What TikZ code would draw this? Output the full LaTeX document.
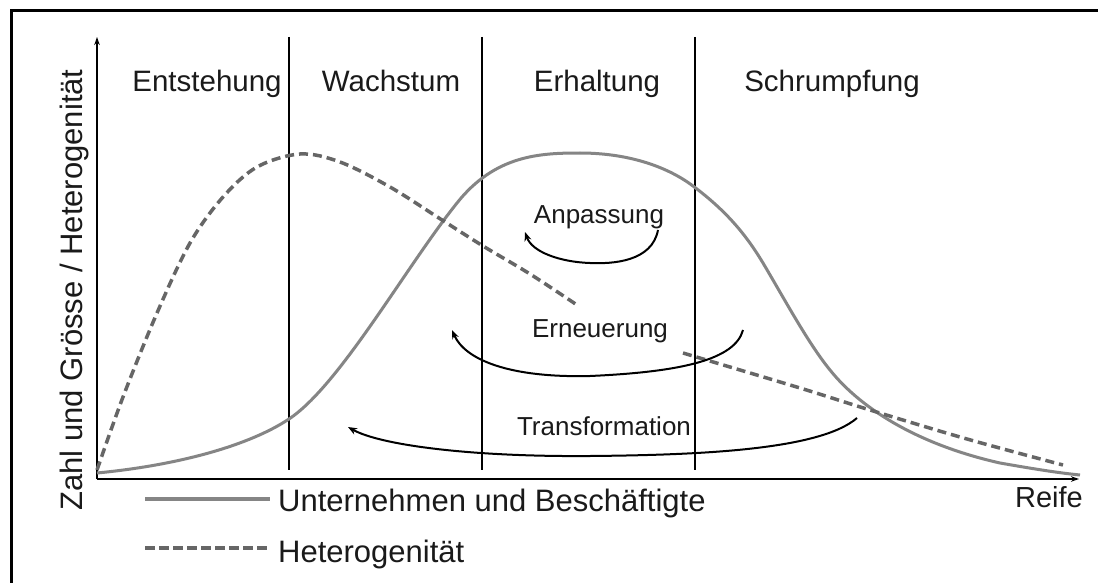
\documentclass[tikz,border=0pt]{standalone}
\usepackage{fontspec}
\setmainfont{Liberation Sans}
\usetikzlibrary{arrows.meta}
\definecolor{curvegray}{HTML}{858585}
\definecolor{dashgray}{HTML}{666666}
\definecolor{txt}{HTML}{1A1A1A}
\tikzset{
  frameline/.style={line width=3pt, black},
  axisline/.style={line width=2pt, black, -{Stealth[length=8pt,width=5.5pt]}},
  phaseline/.style={line width=2.4pt, black},
  solidcurve/.style={line width=3pt, curvegray},
  dashcurve/.style={line width=3.5pt, dashgray, dash pattern=on 9pt off 5pt},
  cyclearrow/.style={line width=2pt, black, -{Stealth[length=9pt,width=7pt]}},
  phaselabel/.style={text=txt, font=\fontsize{29.5}{33}\selectfont, anchor=base, inner sep=0pt},
  cyclelabel/.style={text=txt, font=\fontsize{26}{30}\selectfont, anchor=base, inner sep=0pt},
  legendlabel/.style={text=txt, font=\fontsize{31}{35}\selectfont, anchor=base west, inner sep=0pt},
}
\begin{document}
\begin{tikzpicture}[x=1pt,y=-1pt]
\useasboundingbox (0,0) rectangle (1098,583);
\fill[white] (0,0) rectangle (1098,583);
% frame
\draw[frameline] (11,590) -- (11,11) -- (1105,11);
% coordinates
\coordinate (O) at (97,479);
\coordinate (ytip) at (97,37);
\coordinate (xtip) at (1079,479);
\coordinate (v1t) at (289,37);  \coordinate (v1b) at (289,470);
\coordinate (v2t) at (482,37);  \coordinate (v2b) at (482,470);
\coordinate (v3t) at (695,37);  \coordinate (v3b) at (695,470);
% axes
\draw[axisline] (O) -- (ytip);
\draw[axisline] (O) -- (xtip);
% phase lines
\draw[phaseline] (v1t) -- (v1b);
\draw[phaseline] (v2t) -- (v2b);
\draw[phaseline] (v3t) -- (v3b);
% solid curve
\coordinate (p0) at (97,473);
\coordinate (p1) at (289,419);
\coordinate (p2) at (457,203);
\coordinate (p3) at (580,153);
\coordinate (p4) at (693,186);
\coordinate (p5) at (763,263);
\coordinate (p6) at (830,370);
\coordinate (p7) at (1000,463);
\coordinate (p8) at (1080,475);
\draw[solidcurve] (p0) .. controls (180,465) and (250,445) .. (p1)
  .. controls (340,385) and (405,268) .. (p2)
  .. controls (495,155) and (540,153) .. (p3)
  .. controls (625,153) and (665,165) .. (p4)
  .. controls (725,210) and (745,233) .. (p5)
  .. controls (785,300) and (808,343) .. (p6)
  .. controls (862,410) and (920,445) .. (p7)
  .. controls (1040,470) and (1060,473) .. (p8);
% dashed curve
\draw[dashcurve] plot[smooth, tension=0.55] coordinates {
 (97,470) (123,397) (157,313) (190,243) (223,197) (257,167) (300,154) (340,162)
 (390,187) (442,220) (483,246) (530,274) (577,305)};
\draw[dashcurve] plot[smooth, tension=0.55] coordinates {
 (683,353) (800,388) (870,410) (967,439) (1063,465)};
% cycle arrows
\coordinate (a1) at (658,230); \coordinate (a2) at (590,263); \coordinate (a3) at (525,232);
\draw[cyclearrow] (a1) .. controls (652,262) and (612,264) .. (a2)
  .. controls (560,262) and (532,252) .. (a3);
\coordinate (e1) at (743,330); \coordinate (e2) at (590,376); \coordinate (e3) at (452,330);
\draw[cyclearrow] (e1) .. controls (735,360) and (680,372) .. (e2)
  .. controls (510,378) and (465,360) .. (e3);
\coordinate (t1) at (857,418); \coordinate (t2) at (590,456); \coordinate (t3) at (348,427);
\draw[cyclearrow] (t1) .. controls (820,450) and (700,455) .. (t2)
  .. controls (470,457) and (380,445) .. (t3);
% labels
\node[phaselabel] (l1) at (207,92) {Entstehung};
\node[phaselabel] (l2) at (391,92) {Wachstum};
\node[phaselabel] (l3) at (597,92) {Erhaltung};
\node[phaselabel] (l4) at (832,92) {Schrumpfung};
\node[cyclelabel] (c1) at (599,223) {Anpassung};
\node[cyclelabel] (c2) at (600,337) {Erneuerung};
\node[cyclelabel] (c3) at (604,435) {Transformation};
\node[text=txt, font=\fontsize{31}{34}\selectfont, anchor=base, inner sep=0pt, rotate=90] (ylab) at (82,290) {Zahl und Grösse / Heterogenität};
\node[text=txt, font=\fontsize{29}{32}\selectfont, anchor=base east, inner sep=0pt] (reife) at (1083,507) {Reife};
% legend
\coordinate (s1) at (145,499); \coordinate (s2) at (270,499);
\coordinate (d1) at (145,548); \coordinate (d2) at (270,548);
\draw[line width=3.5pt, curvegray] (s1) -- (s2);
\draw[line width=3.5pt, dashgray, dash pattern=on 10pt off 4pt] (d1) -- (d2);
\node[legendlabel] (lg1) at (278,511) {Unternehmen und Beschäftigte};
\node[legendlabel] (lg2) at (278,562) {Heterogenität};
\end{tikzpicture}
\end{document}
